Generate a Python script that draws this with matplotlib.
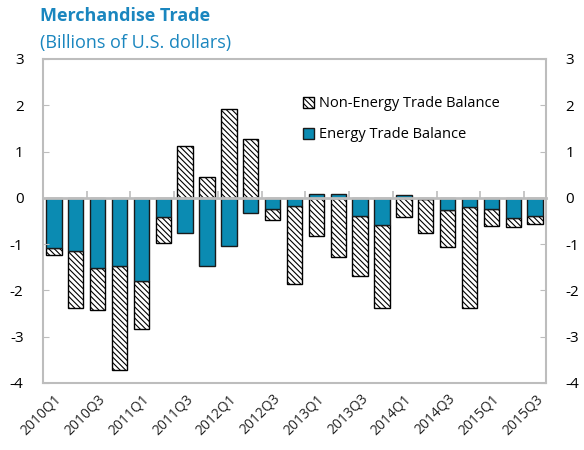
import numpy as np
import matplotlib.pyplot as plt

quarters = ["2010Q1", "2010Q2", "2010Q3", "2010Q4",
            "2011Q1", "2011Q2", "2011Q3", "2011Q4",
            "2012Q1", "2012Q2", "2012Q3", "2012Q4",
            "2013Q1", "2013Q2", "2013Q3", "2013Q4",
            "2014Q1", "2014Q2", "2014Q3", "2014Q4",
            "2015Q1", "2015Q2", "2015Q3"]
energy = [-1.08, -1.16, -1.51, -1.47, -1.80, -0.41, -0.75, -1.47,
          -1.04, -0.32, -0.25, -0.18, 0.08, 0.08, -0.39, -0.58,
          0.05, -0.02, -0.27, -0.20, -0.24, -0.43, -0.39]
non_energy = [-0.16, -1.22, -0.92, -2.25, -1.04, -0.57, 1.11, 0.46,
              1.91, 1.26, -0.22, -1.68, -0.83, -1.27, -1.30, -1.80,
              -0.41, -0.73, -0.79, -2.18, -0.36, -0.20, -0.18]

blue = "#0B8BB2"
grey = "#BDBDBD"
plt.rcParams['font.family'] = ['Open Sans', 'DejaVu Sans']
plt.rcParams['axes.unicode_minus'] = False
plt.rcParams['hatch.linewidth'] = 0.8
plt.rcParams['hatch.color'] = '#444444'

x = np.arange(len(quarters))
e = np.array(energy)
ne = np.array(non_energy)
ne_bottom = np.where(np.sign(ne) == np.sign(e), e, 0)

fig = plt.figure(figsize=(5.84, 4.5), dpi=100)
ax = fig.add_axes([0.0736, 0.149, 0.8614, 0.72])

ax.bar(x, ne, 0.7, bottom=ne_bottom, color='white', edgecolor='black',
       linewidth=1.0, hatch='\\\\\\\\\\\\', label='Non-Energy Trade Balance')
ax.bar(x, e, 0.7, color=blue, edgecolor='#1a1a1a', linewidth=1.0,
       label='Energy Trade Balance')

ax.set_xlim(-0.5, len(quarters) - 0.5)
ax.set_ylim(-4, 3)
ax.set_yticks(range(-4, 4))
ax.set_xticks(x[::2])
ax.set_xticklabels(quarters[::2], rotation=45, ha='right',
                   rotation_mode='anchor', fontsize=10, color='#222222')
ax.tick_params(axis='x', length=0, pad=6)
ax.tick_params(axis='y', direction='in', length=4, color=grey,
               labelsize=11, pad=14, right=True, labelright=True)
for s in ax.spines.values():
    s.set_color(grey)
    s.set_linewidth(1.5)

# zero line with category separators every two quarters
zx = ax.twiny()
zx.set_xlim(ax.get_xlim())
zx.spines['top'].set_position(('data', 0))
zx.spines['top'].set_color(grey)
zx.spines['top'].set_linewidth(2)
for side in ['bottom', 'left', 'right']:
    zx.spines[side].set_visible(False)
zx.set_xticks(np.arange(1.5, len(quarters) - 0.5, 2))
zx.tick_params(axis='x', direction='out', length=5, color=grey, width=1.2,
               labeltop=False)

ax.legend(loc='upper left', bbox_to_anchor=(0.49, 0.925), frameon=False,
          fontsize=10.5, handlelength=0.8, handleheight=0.8,
          handletextpad=0.3, labelspacing=1.1)

fig.text(0.068, 0.965, "Merchandise Trade", color='#1A86BF',
         fontsize=13, fontweight='bold', va='center')
fig.text(0.068, 0.905, "(Billions of U.S. dollars)", color='#1A86BF',
         fontsize=13, va='center')

fig.savefig("out.png", dpi=100)
